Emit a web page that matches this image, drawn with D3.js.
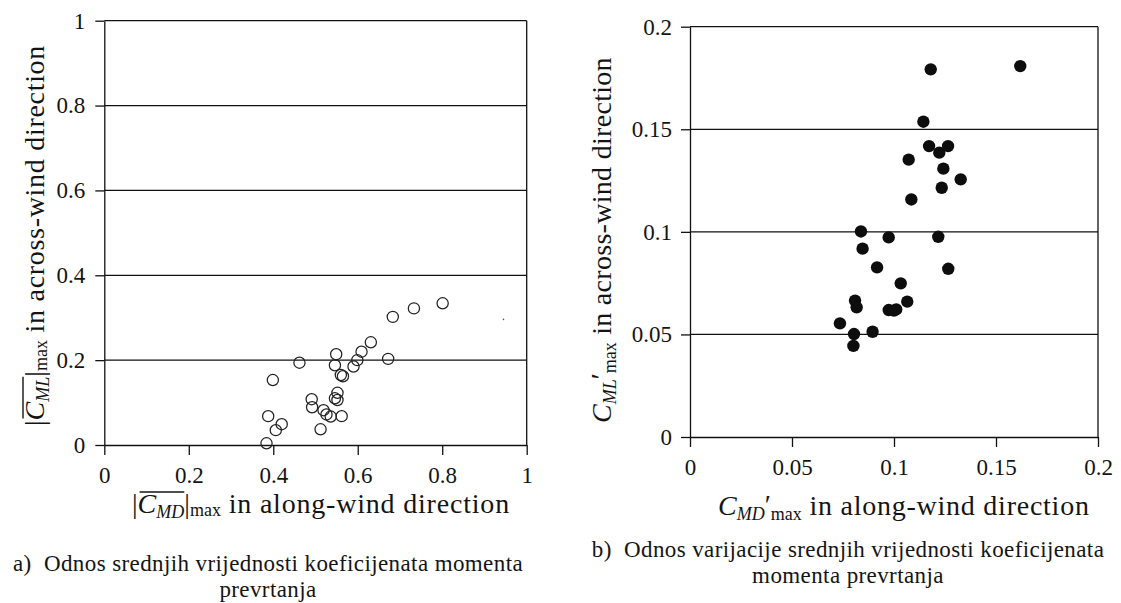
<!DOCTYPE html>
<html><head><meta charset="utf-8">
<script src="https://cdn.jsdelivr.net/npm/d3@7"></script>
<style>
body{margin:0;background:#fff}
svg{display:block}
</style>
</head><body>
<svg id="c" width="1121" height="603"></svg>
<script>
// ---- data: panel a (mean overturning moment coefficients) ----
const meanX = [0.384,0.388,0.406,0.420,0.399,0.462,0.491,0.492,0.512,0.519,0.526,0.536,0.546,0.552,0.552,0.562,0.549,0.546,0.560,0.565,0.590,0.599,0.609,0.631,0.672,0.683,0.733,0.801];
const meanY = [0.004,0.068,0.035,0.049,0.153,0.194,0.108,0.089,0.037,0.082,0.072,0.067,0.110,0.123,0.106,0.068,0.214,0.188,0.165,0.162,0.185,0.200,0.220,0.242,0.203,0.302,0.322,0.334];
const strayX = [0.945];
const strayY = [0.296];
// ---- data: panel b (fluctuating overturning moment coefficients) ----
const varX = [0.1180,0.1619,0.1144,0.1172,0.1222,0.1265,0.1072,0.1242,0.1327,0.1234,0.1085,0.0838,0.0974,0.1217,0.0846,0.0917,0.1266,0.1033,0.1065,0.0809,0.0817,0.0974,0.1000,0.1011,0.0735,0.0804,0.0895,0.0801];
const varY = [0.1792,0.1808,0.1537,0.1418,0.1386,0.1418,0.1352,0.1308,0.1256,0.1215,0.1158,0.1002,0.0973,0.0976,0.0918,0.0827,0.0820,0.0749,0.0660,0.0665,0.0632,0.0619,0.0616,0.0622,0.0554,0.0502,0.0513,0.0444];
// ---- ticks ----
const meanTicks = [0,0.2,0.4,0.6,0.8,1];
const varTicks = [0,0.05,0.1,0.15,0.2];
const captionA = ["a)  Odnos srednjih vrijednosti koeficijenata momenta","prevrtanja"];
const captionB = ["b)  Odnos varijacije srednjih vrijednosti koeficijenata","momenta prevrtanja"];

const FONT = '"Liberation Serif","Times New Roman",Tinos,serif';
const INK = "#141414";
const svg = d3.select("#c");
const FS = 23;

function panel(xs, ys, xt, yt, padX, padY){
  const g = svg.append("g");
  const [x0,x1] = xs.range(), [y0,y1] = ys.range();
  g.selectAll("line.grid").data(yt.filter(d=>d>0)).join("line")
    .attr("x1",x0).attr("x2",x1).attr("y1",d=>ys(d)).attr("y2",d=>ys(d))
    .attr("stroke","#111").attr("stroke-width",1.3);
  g.append("line").attr("x1",x1).attr("x2",x1).attr("y1",y0).attr("y2",y1)
    .attr("stroke","#111").attr("stroke-width",1.3);
  const ax = g.append("g").attr("transform",`translate(0,${y0})`)
    .call(d3.axisBottom(xs).tickValues(xt).tickFormat(d=>String(d)).tickSize(10).tickSizeOuter(0).tickPadding(padX));
  const ay = g.append("g").attr("transform",`translate(${x0},0)`)
    .call(d3.axisLeft(ys).tickValues(yt).tickFormat(d=>String(d)).tickSize(9).tickSizeOuter(0).tickPadding(padY));
  [ax,ay].forEach(a=>{
    a.selectAll("path,line").attr("stroke","#111").attr("stroke-width",1.3);
    a.selectAll("text").style("font-family",FONT).style("font-size",FS+"px").style("fill",INK);
  });
  return g;
}

// Panel a
const xa = d3.scaleLinear().domain([0,1]).range([104.3,526.7]);
const ya = d3.scaleLinear().domain([0,1]).range([445,20.7]);
const ga = panel(xa, ya, meanTicks, meanTicks, 12, 10);
ga.selectAll("circle.pt").data(meanX.map((v,i)=>[v,meanY[i]])).join("circle")
  .attr("cx",d=>xa(d[0])).attr("cy",d=>ya(d[1])).attr("r",5.6)
  .attr("fill","none").attr("stroke","#222").attr("stroke-width",1.25);
ga.selectAll("circle.st").data(strayX.map((v,i)=>[v,strayY[i]])).join("circle")
  .attr("cx",d=>xa(d[0])).attr("cy",d=>ya(d[1])).attr("r",0.8).attr("fill","#555");

// Panel b
const xb = d3.scaleLinear().domain([0,0.2]).range([690,1098]);
const yb = d3.scaleLinear().domain([0,0.2]).range([437,26.7]);
const gb = panel(xb, yb, varTicks, varTicks, 12, 9);
gb.selectAll("circle.pt").data(varX.map((v,i)=>[v,varY[i]])).join("circle")
  .attr("cx",d=>xb(d[0])).attr("cy",d=>yb(d[1])).attr("r",6.2)
  .attr("fill","#0d0d0d");

// ---- axis titles with sub/superscripts ----
const TFS = 28, SFS = 18;
function title(x, y, rot, parts, overlineRange){
  const t = svg.append("text").attr("transform",`translate(${x},${y}) rotate(${rot})`)
    .style("font-family",FONT).style("font-size",TFS+"px").style("fill",INK).style("white-space","pre");
  parts.forEach(p=>{
    const s = t.append("tspan").text(p.t);
    if(p.i) s.style("font-style","italic");
    if(p.fs) s.style("font-size",p.fs+"px");
    if(p.ls) s.style("letter-spacing",p.ls+"px");
    if(p.dy) s.attr("dy",p.dy);
  });
  if(overlineRange){
    const node = t.node();
    let idx=0; const starts=[];
    parts.forEach(p=>{starts.push(idx); idx+=p.t.length;});
    const a = starts[overlineRange[0]];
    const bIdx = starts[overlineRange[1]] + parts[overlineRange[1]].t.length - 1;
    const p0 = node.getStartPositionOfChar(a);
    const p1 = node.getEndPositionOfChar(bIdx);
    svg.append("line")
      .attr("transform",`translate(${x},${y}) rotate(${rot})`)
      .attr("x1",p0.x+2).attr("x2",p1.x).attr("y1",-21).attr("y2",-21)
      .attr("stroke",INK).attr("stroke-width",1.4);
  }
  return t;
}
// Panel a x-title
title(132, 513, 0, [
  {t:"|"},{t:"C",i:1},{t:"MD",i:1,fs:SFS,dy:5},{t:"|",dy:-5},{t:"max",fs:SFS,dy:3},{t:" in along-wind direction",dy:-3,ls:0.8}
],[1,2]);
// Panel a y-title
title(44, 426, -90, [
  {t:"|"},{t:"C",i:1},{t:"ML",i:1,fs:SFS,dy:5},{t:"|",dy:-5},{t:"max",fs:SFS,dy:3},{t:" in across-wind direction",dy:-3,ls:0.7}
],[1,2]);
// Panel b x-title
title(718, 515, 0, [
  {t:"C",i:1},{t:"MD",i:1,fs:SFS,dy:5},{t:"′",dy:-6},{t:"max",fs:SFS,dy:6},{t:" in along-wind direction",dy:-5,ls:0.75}
]);
// Panel b y-title
title(611, 423, -90, [
  {t:"C",i:1},{t:"ML",i:1,fs:SFS,dy:5},{t:"′",dy:-6},{t:"max",fs:SFS,dy:6},{t:" in across-wind direction",dy:-5,ls:0.3}
]);

// ---- captions ----
function caption(cx, y0, gap, lines){
  svg.append("g").selectAll("text").data(lines).join("text")
    .attr("x",cx).attr("y",(d,i)=>y0+i*gap).attr("text-anchor","middle")
    .style("font-family",FONT).style("font-size","23px").style("letter-spacing","0.4px")
    .style("fill",INK).style("white-space","pre").text(d=>d);
}
caption(268, 571, 26, captionA);
caption(848, 557, 26, captionB);
</script>
</body></html>
